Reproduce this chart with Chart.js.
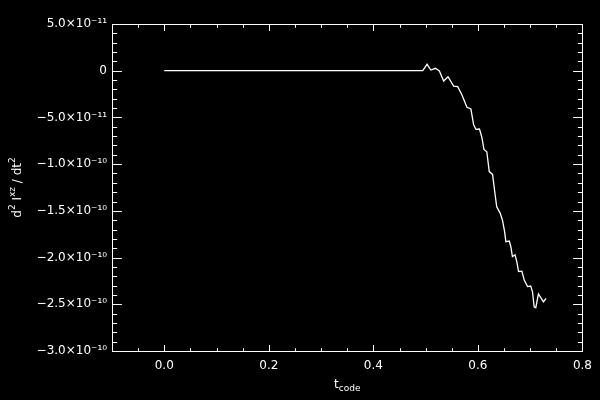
<!DOCTYPE html>
<html>
<head>
<meta charset="utf-8">
<script src="https://cdn.jsdelivr.net/npm/chart.js@4"></script>
<style>
  html, body { margin: 0; padding: 0; background: #000; }
  #wrap { width: 600px; height: 400px; }
</style>
</head>
<body>
<div id="wrap"><canvas id="c" width="600" height="400"></canvas></div>
<script>
// ---- data ----
const tCode = [0, 0.4945, 0.5027, 0.510, 0.5187, 0.5263, 0.5345, 0.5428, 0.5536, 0.5613,
  0.5695, 0.579, 0.5866, 0.5918, 0.5962, 0.603, 0.6076, 0.6115, 0.617, 0.6217,
  0.628, 0.633, 0.636, 0.6427, 0.647, 0.651, 0.6535, 0.66, 0.663, 0.666,
  0.671, 0.6745, 0.6777, 0.684, 0.6886, 0.695, 0.701, 0.7044, 0.7076, 0.7107,
  0.7158, 0.7254, 0.7305];
// d2 Ixz / dt2 in units of 1e-10
const d2Ixz_e10 = [0, 0, 0.069, 0.007, 0.026, -0.003, -0.11, -0.064, -0.164, -0.171,
  -0.26, -0.392, -0.41, -0.58, -0.628, -0.624, -0.713, -0.842, -0.867, -1.08,
  -1.11, -1.33, -1.456, -1.527, -1.6, -1.72, -1.83, -1.823, -1.884, -1.99,
  -1.97, -2.045, -2.15, -2.145, -2.24, -2.31, -2.305, -2.366, -2.527, -2.537,
  -2.39, -2.473, -2.437];

const xTickValues = [0.0, 0.2, 0.4, 0.6, 0.8];
const xTickLabels = ["0.0", "0.2", "0.4", "0.6", "0.8"];
const yTickValues = [5e-11, 0, -5e-11, -1e-10, -1.5e-10, -2e-10, -2.5e-10, -3e-10];
const yTickLabels = ["5.0×10⁻¹¹", "0", "−5.0×10⁻¹¹", "−1.0×10⁻¹⁰", "−1.5×10⁻¹⁰",
  "−2.0×10⁻¹⁰", "−2.5×10⁻¹⁰", "−3.0×10⁻¹⁰"];

const points = tCode.map((t, i) => ({ x: t, y: d2Ixz_e10[i] * 1e-10 }));

const FONT = "'DejaVu Sans', sans-serif";

// Box, inward ticks on all sides, and axis titles with sub/superscripts
const idlFrame = {
  id: 'idlFrame',
  afterDraw(chart) {
    const { ctx, chartArea: a, scales: { x, y } } = chart;
    ctx.save();
    ctx.strokeStyle = '#fff';
    ctx.lineWidth = 1;
    const L = Math.round(a.left) + 0.5, R = Math.round(a.right) + 0.5;
    const T = Math.round(a.top) + 0.5, B = Math.round(a.bottom) + 0.5;
    ctx.strokeRect(L, T, R - L, B - T);
    const xMaj = 0.02 * (B - T), yMaj = 0.02 * (R - L);
    ctx.beginPath();
    // x ticks (minor every 0.05, major every 0.2)
    for (let k = -2; k <= 16; k++) {
      const v = k * 0.05;
      const px = Math.round(x.getPixelForValue(v)) + 0.5;
      if (px < L || px > R) continue;
      const len = (k % 4 === 0) ? xMaj : xMaj / 2;
      ctx.moveTo(px, B); ctx.lineTo(px, B - len);
      ctx.moveTo(px, T); ctx.lineTo(px, T + len);
    }
    // y ticks (minor every 1e-11, major every 5e-11)
    for (let k = -30; k <= 5; k++) {
      const v = k * 1e-11;
      const py = Math.round(y.getPixelForValue(v)) + 0.5;
      if (py < T - 0.6 || py > B + 0.6) continue;
      const len = (k % 5 === 0) ? yMaj : yMaj / 2;
      ctx.moveTo(L, py); ctx.lineTo(L + len, py);
      ctx.moveTo(R, py); ctx.lineTo(R - len, py);
    }
    ctx.stroke();

    ctx.fillStyle = '#fff';
    ctx.textBaseline = 'alphabetic';
    // x title: t_code
    const big = '12px ' + FONT, small = '9px ' + FONT;
    ctx.font = big; const wt = ctx.measureText('t').width;
    ctx.font = small; const wc = ctx.measureText('code').width;
    const cx = (a.left + a.right) / 2;
    let sx = cx - (wt + wc) / 2, by = 388;
    ctx.font = big; ctx.textAlign = 'left'; ctx.fillText('t', sx, by);
    ctx.font = small; ctx.fillText('code', sx + wt, by + 3);

    // y title: d² I^xz / dt² (rotated)
    const parts = [
      ['d', big, 0], ['2', small, -6], [' I', big, 0], ['xz', small, -6],
      [' / dt', big, 0], ['2', small, -6]
    ];
    let total = 0;
    parts.forEach(p => { ctx.font = p[1]; total += ctx.measureText(p[0]).width; });
    ctx.translate(21, (a.top + a.bottom) / 2);
    ctx.rotate(-Math.PI / 2);
    let ox = -total / 2;
    parts.forEach(p => {
      ctx.font = p[1];
      ctx.fillText(p[0], ox, p[2]);
      ox += ctx.measureText(p[0]).width;
    });
    ctx.restore();
  }
};

new Chart(document.getElementById('c'), {
  type: 'line',
  data: {
    datasets: [{
      data: points,
      borderColor: '#fff',
      borderWidth: 1.3,
      pointRadius: 0,
      tension: 0,
      fill: false
    }]
  },
  options: {
    responsive: false,
    animation: false,
    events: [],
    layout: { padding: { top: 24, right: 16, left: 0, bottom: 0 } },
    plugins: { legend: { display: false }, tooltip: { enabled: false } },
    scales: {
      x: {
        type: 'linear',
        min: -0.1, max: 0.8,
        grid: { display: false, drawTicks: false },
        border: { display: false },
        afterBuildTicks: s => { s.ticks = xTickValues.map(v => ({ value: v })); },
        afterFit: s => { s.height = 49; },
        ticks: {
          color: '#fff', font: { family: FONT, size: 12 }, padding: 8,
          maxRotation: 0, autoSkip: false,
          callback: (v, i) => xTickLabels[i]
        }
      },
      y: {
        type: 'linear',
        min: -3e-10, max: 5e-11,
        grid: { display: false, drawTicks: false },
        border: { display: false },
        afterBuildTicks: s => { s.ticks = yTickValues.map(v => ({ value: v })); },
        afterFit: s => { s.width = 112; },
        ticks: {
          color: '#fff', font: { family: FONT, size: 12 }, padding: 5,
          autoSkip: false,
          callback: (v, i) => yTickLabels[i]
        }
      }
    }
  },
  plugins: [idlFrame]
});
</script>
</body>
</html>
